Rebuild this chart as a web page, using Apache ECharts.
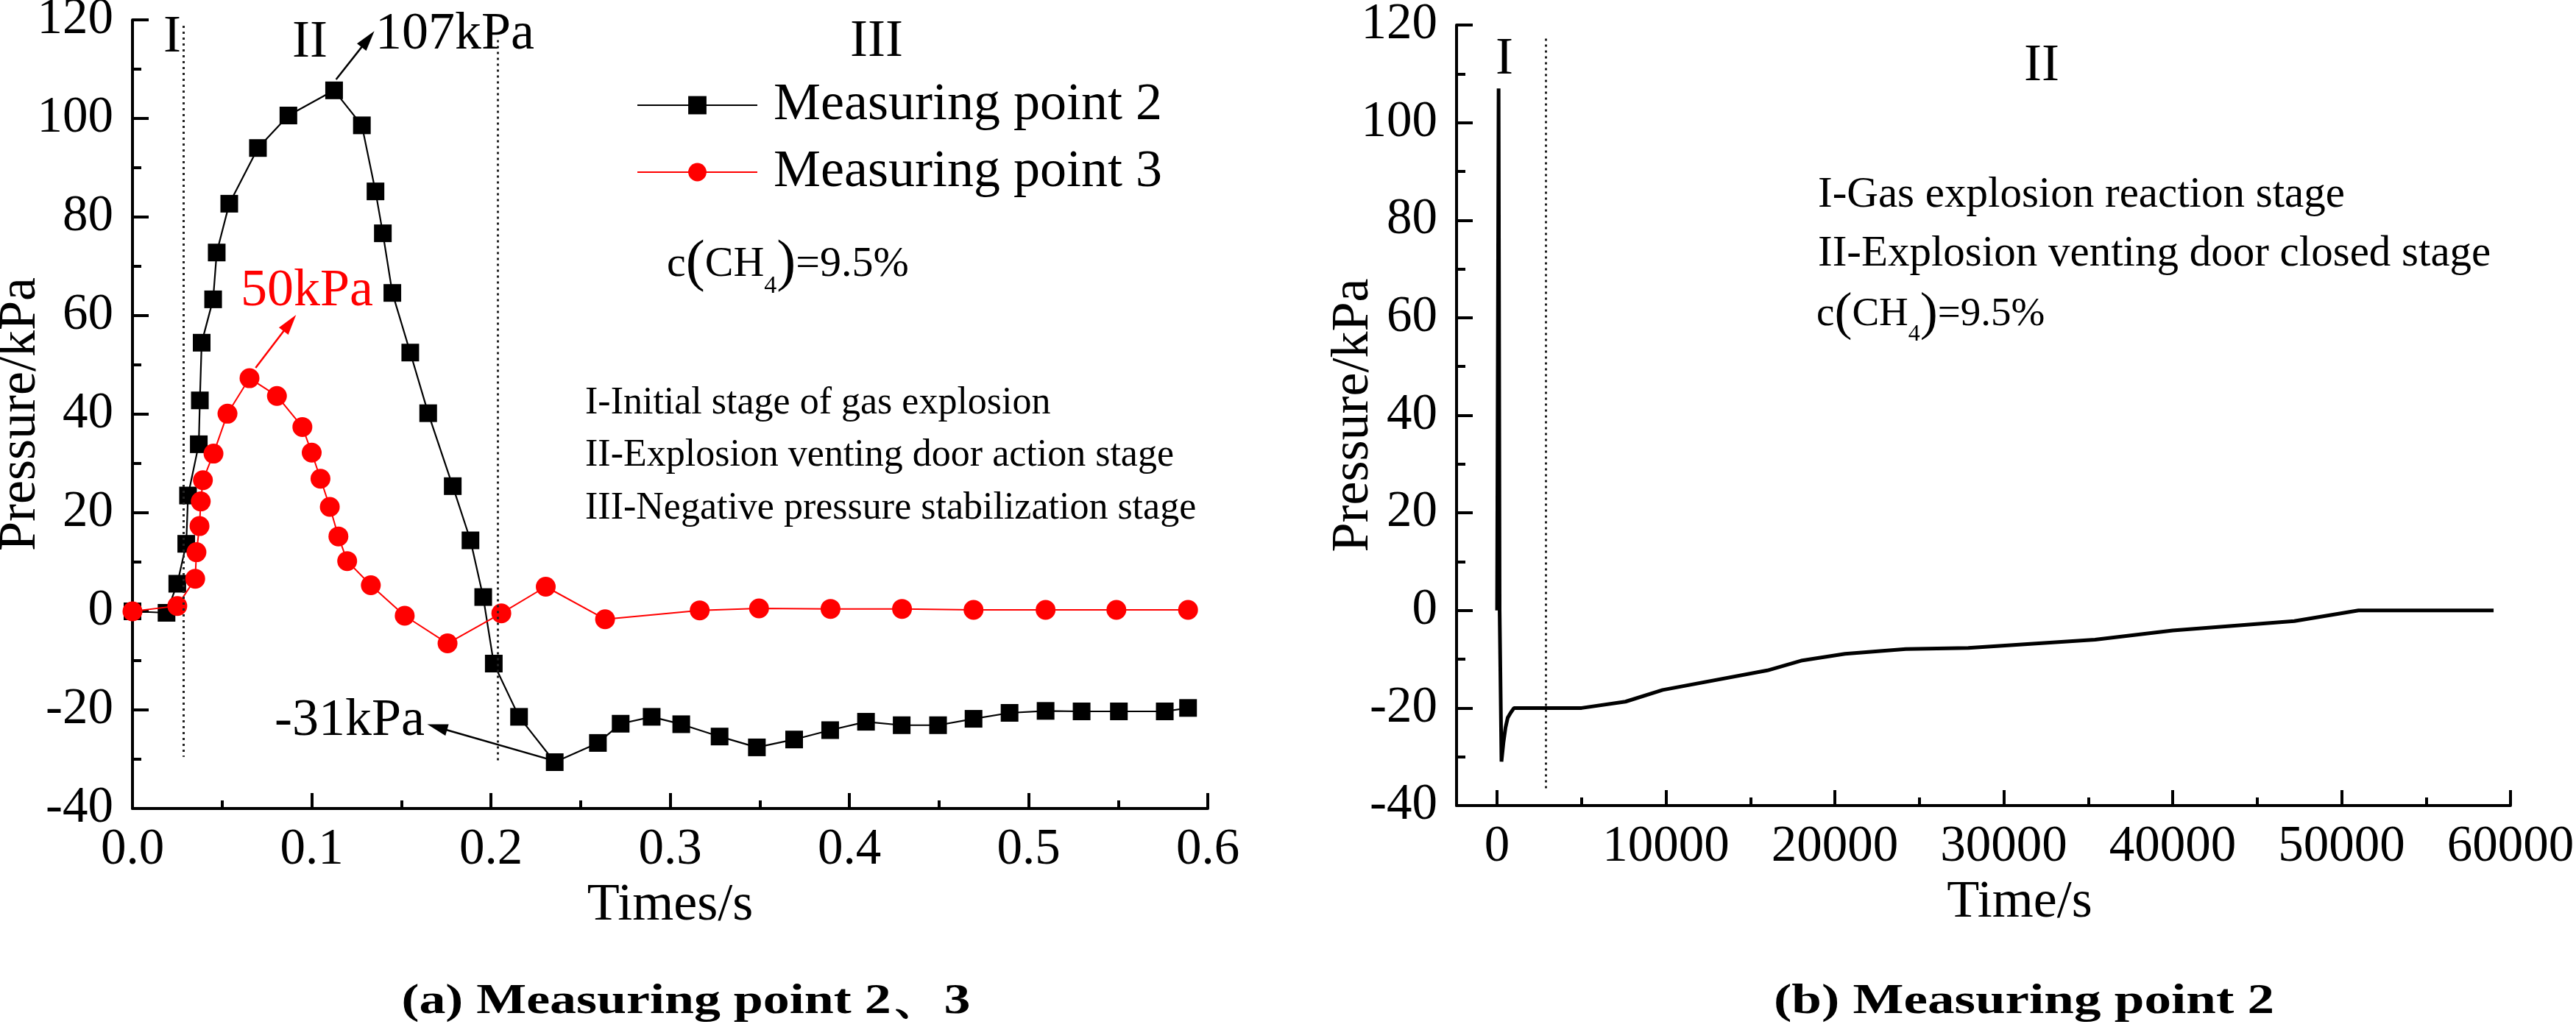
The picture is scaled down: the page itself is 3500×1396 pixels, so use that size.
<!DOCTYPE html>
<html><head><meta charset="utf-8">
<script src="https://cdn.jsdelivr.net/npm/echarts@6/dist/echarts.min.js"></script>
<style>html,body{margin:0;padding:0;background:#fff}#c{width:3500px;height:1396px}</style>
</head><body><div id="c"></div>
<script>
const SERIF = '"Liberation Serif", "Times New Roman", serif';

// ---------- Panel (a): Measuring point 2 and 3 ----------
const timeMP2 = [0, 0.019, 0.025, 0.030, 0.031, 0.037, 0.0376, 0.0386, 0.045, 0.047, 0.054, 0.070, 0.087, 0.1125, 0.128, 0.1356, 0.1397, 0.145, 0.155, 0.165, 0.1787, 0.1886, 0.1957, 0.2016, 0.2157, 0.2356, 0.2597, 0.2724, 0.2897, 0.3062, 0.3276, 0.3484, 0.3692, 0.3893, 0.4093, 0.4292, 0.4495, 0.4693, 0.4894, 0.5095, 0.5296, 0.5504, 0.576, 0.589];
const pressMP2 = [0, -0.3, 5.6, 13.7, 23.5, 33.9, 42.8, 54.5, 63.3, 72.8, 82.7, 94.0, 100.6, 105.7, 98.6, 85.2, 76.7, 64.6, 52.5, 40.2, 25.4, 14.4, 2.9, -10.6, -21.4, -30.6, -26.7, -22.8, -21.4, -22.9, -25.4, -27.6, -26.0, -24.1, -22.4, -23.1, -23.1, -21.8, -20.6, -20.2, -20.3, -20.3, -20.3, -19.6];
const timeMP3 = [0, 0.025, 0.035, 0.0357, 0.0374, 0.0381, 0.0393, 0.0452, 0.053, 0.0653, 0.0806, 0.0948, 0.1, 0.1049, 0.1101, 0.1149, 0.1198, 0.133, 0.1519, 0.1758, 0.2058, 0.2306, 0.2637, 0.3165, 0.3496, 0.3895, 0.4294, 0.4693, 0.5095, 0.549, 0.589];
const pressMP3 = [0, 1.1, 6.6, 12.0, 17.3, 22.3, 26.6, 32.0, 40.1, 47.3, 43.7, 37.4, 32.2, 26.9, 21.2, 15.2, 10.2, 5.3, -0.9, -6.5, -0.4, 5.0, -1.6, 0.2, 0.6, 0.5, 0.5, 0.3, 0.3, 0.3, 0.3];

// stage divider lines (x, top y, bottom y)
const stageX_A = [0.0286, 0.204];
const stageTop_A = [118.8, 115.9];
const stageBottom_A = [-29.5, -30.7];
// annotation arrows: [fromX, fromY, toX, toY]
const arrow107 = [0.1136, 107.9, 0.1314, 116.1];
const arrow50 = [0.0687, 49.4, 0.0878, 58.5];
const arrowNeg31 = [0.2342, -30.2, 0.170, -23.5];

// ---------- Panel (b): Measuring point 2 (long time) ----------
const timeB = [0, 40, 90, 150, 260, 380, 500, 630, 800, 1000, 5000, 7600, 9800, 16000, 18000, 20600, 24200, 27900, 35400, 40000, 47200, 51000, 59000];
const pressB = [0, 0, 107, 0, -31, -27, -24, -22, -21, -20, -20, -18.7, -16.3, -12.3, -10.3, -8.9, -7.9, -7.7, -6.0, -4.1, -2.2, 0, 0];
const stageX_B = [2876];
const stageTop_B = [117.2];
const stageBottom_B = [-37];

// axes
const xMajorB = [0, 10000, 20000, 30000, 40000, 50000, 60000];
const xMinorB = [5000, 15000, 25000, 35000, 45000, 55000];

const zip = (a, b) => a.map((v, i) => [v, b[i]]);

const tickFont = {fontSize: 69, fontFamily: SERIF, color: '#000'};
const nameFont = {fontSize: 72, fontFamily: SERIF, color: '#000'};
const axisLineStyle = {color: '#000', width: 4};

function valueYAxis(gridIndex, nameGap) {
  return {
    gridIndex, type: 'value', min: -40, max: 120, interval: 20,
    name: 'Pressure/kPa', nameLocation: 'middle', nameGap, nameMoveOverlap: false, nameTextStyle: nameFont,
    axisLine: {show: true, onZero: false, lineStyle: axisLineStyle},
    axisTick: {show: true, inside: true, length: 22, lineStyle: {color: '#000', width: 4}},
    minorTick: {show: true, splitNumber: 2, length: 12, lineStyle: {color: '#000', width: 4}},
    splitLine: {show: false}, minorSplitLine: {show: false},
    axisLabel: Object.assign({margin: 26, formatter: v => String(v)}, tickFont)
  };
}

const dotted = {color: '#222', width: 3, type: [3, 5]};
function stageLines(xs, tops, bottoms) {
  return xs.map((x, i) => [
    {coord: [x, tops[i]], symbol: 'none', lineStyle: dotted},
    {coord: [x, bottoms[i]], symbol: 'none'}
  ]);
}
function arrow(a, color) {
  return [
    {coord: [a[0], a[1]], symbol: 'none', lineStyle: {color, width: 2.5, type: 'solid'}},
    {coord: [a[2], a[3]], symbol: 'triangle', symbolSize: [16, 28], itemStyle: {color}}
  ];
}

const T = (text, x, y, size, extra) => ({
  type: 'text', x, y, silent: true, z: 100,
  style: Object.assign({text, fontSize: size, fontFamily: SERIF, fill: '#000', align: 'left', verticalAlign: 'middle', textAlign: 'left', textVerticalAlign: 'middle'}, extra || {})
});
const C = {align: 'center', textAlign: 'center'};
function ch4(x, y, main, paren, sub) {
  return {
    type: 'text', x, y, silent: true, z: 100,
    style: {
      text: '{a|c}{p|(}{a|CH}{s|4}{p|)}{a|=9.5%}',
      align: 'left', verticalAlign: 'middle', textAlign: 'left', textVerticalAlign: 'middle',
      fill: '#000',
      rich: {
        a: {fontSize: main, fontFamily: SERIF, fill: '#000', lineHeight: paren + 14, verticalAlign: 'middle'},
        p: {fontSize: paren, fontFamily: SERIF, fill: '#000', lineHeight: paren + 14, verticalAlign: 'middle'},
        s: {fontSize: sub, fontFamily: SERIF, fill: '#000', lineHeight: sub, verticalAlign: 'bottom'}
      }
    }
  };
}

const option = {
  animation: false,
  backgroundColor: '#fff',
  grid: [
    {left: 180, right: 1859, top: 27, bottom: 297, containLabel: false, outerBoundsMode: 'none'},
    {left: 1979, right: 89, top: 34, bottom: 301, containLabel: false, outerBoundsMode: 'none'}
  ],
  legend: {
    data: ['Measuring point 2', 'Measuring point 3'],
    orient: 'vertical', left: 865, top: 107, padding: 0,
    itemWidth: 163, itemHeight: 31, itemGap: 19, selectedMode: false,
    textStyle: {fontSize: 72, fontFamily: SERIF, color: '#000', lineHeight: 72, padding: [0, 0, 0, 17]}
  },
  xAxis: [
    {
      gridIndex: 0, type: 'value', min: 0, max: 0.6, interval: 0.1, position: 'bottom',
      name: 'Times/s', nameLocation: 'middle', nameGap: 92, nameTextStyle: nameFont,
      axisLine: {show: true, onZero: false, lineStyle: axisLineStyle},
      axisTick: {show: true, inside: true, length: 21, lineStyle: {color: '#000', width: 4}},
      minorTick: {show: true, splitNumber: 2, length: 11, lineStyle: {color: '#000', width: 4}},
      splitLine: {show: false}, minorSplitLine: {show: false},
      axisLabel: Object.assign({margin: 22, formatter: v => v.toFixed(1)}, tickFont)
    },
    {
      gridIndex: 1, type: 'value', min: -2400, max: 60000, position: 'bottom',
      name: 'Time/s', nameLocation: 'middle', nameGap: 88,
      nameTextStyle: Object.assign({padding: [0, 0, 0, 98]}, nameFont),
      axisLine: {show: true, onZero: false, lineStyle: axisLineStyle},
      axisTick: {show: true, inside: true, length: 21, customValues: xMajorB, lineStyle: {color: '#000', width: 4}},
      splitLine: {show: false},
      axisLabel: Object.assign({margin: 22, customValues: xMajorB, formatter: v => String(v)}, tickFont)
    },
    {
      gridIndex: 1, type: 'value', min: -2400, max: 60000, position: 'bottom',
      axisLine: {show: false, onZero: false},
      axisTick: {show: true, inside: true, length: 11, customValues: xMinorB, lineStyle: {color: '#000', width: 4}},
      splitLine: {show: false},
      axisLabel: {show: false}
    }
  ],
  yAxis: [valueYAxis(0, 116), valueYAxis(1, 104)],
  series: [
    {
      name: 'Measuring point 2', type: 'line', xAxisIndex: 0, yAxisIndex: 0,
      data: zip(timeMP2, pressMP2),
      symbol: 'rect', symbolSize: 24,
      lineStyle: {color: '#000', width: 2.2}, itemStyle: {color: '#000'},
      emphasis: {disabled: true}, z: 3,
      markLine: {
        silent: true, animation: false, label: {show: false}, emphasis: {disabled: true},
        data: [
          ...stageLines(stageX_A, stageTop_A, stageBottom_A),
          arrow(arrow107, '#000'),
          arrow(arrowNeg31, '#000')
        ]
      }
    },
    {
      name: 'Measuring point 3', type: 'line', xAxisIndex: 0, yAxisIndex: 0,
      data: zip(timeMP3, pressMP3),
      symbol: 'circle', symbolSize: 27,
      lineStyle: {color: '#ff0000', width: 2}, itemStyle: {color: '#ff0000'},
      emphasis: {disabled: true}, z: 4,
      markLine: {
        silent: true, animation: false, label: {show: false}, emphasis: {disabled: true},
        data: [arrow(arrow50, '#ff0000')]
      }
    },
    {
      name: 'Measuring point 2 (long)', type: 'line', xAxisIndex: 1, yAxisIndex: 1,
      data: zip(timeB, pressB),
      showSymbol: false, symbol: 'none',
      lineStyle: {color: '#000', width: 5}, emphasis: {disabled: true},
      markLine: {
        silent: true, animation: false, label: {show: false}, emphasis: {disabled: true},
        data: stageLines(stageX_B, stageTop_B, stageBottom_B)
      }
    }
  ],
  graphic: [
    T('I', 234, 51, 72, C),
    T('II', 421, 58, 72, C),
    T('III', 1191, 57, 72, C),
    T('107kPa', 510, 47, 72),
    T('50kPa', 327, 396, 72, {fill: '#ff0000'}),
    T('-31kPa', 373, 980, 72),
    T('I-Initial stage of gas explosion', 795, 548, 52),
    T('II-Explosion venting door action stage', 795, 619, 52),
    T('III-Negative pressure stabilization stage', 795, 691, 52),
    ch4(906, 360, 58, 78, 34),
    T('I', 2044, 81, 72, C),
    T('II', 2774, 90, 72, C),
    T('I-Gas explosion reaction stage', 2470, 265, 59),
    T('II-Explosion venting door closed stage', 2470, 345, 59),
    ch4(2468, 428, 55, 72, 32),
    Object.assign(T('(a) Measuring point 2、3', 0, 0, 58, {fontWeight: 'bold', align: 'center', textAlign: 'center'}), {x: 932, y: 1362, scaleX: 1.24}),
    Object.assign(T('(b) Measuring point 2', 0, 0, 58, {fontWeight: 'bold', align: 'center', textAlign: 'center'}), {x: 2750, y: 1362, scaleX: 1.26})
  ]
};

const chart = echarts.init(document.getElementById('c'), null, {renderer: 'canvas'});
chart.setOption(option);
</script>
</body></html>
